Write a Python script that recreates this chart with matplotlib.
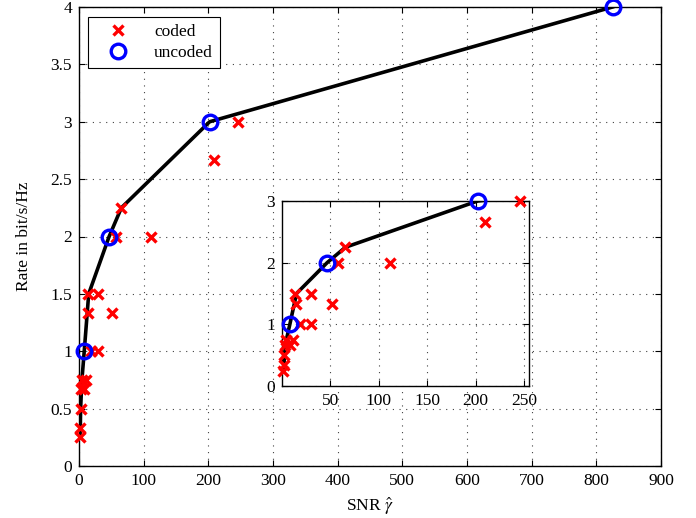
import matplotlib
matplotlib.use("Agg")
import matplotlib.pyplot as plt

plt.rcParams['font.family'] = ['Liberation Serif', 'DejaVu Serif']
plt.rcParams['mathtext.fontset'] = 'stix'

# Data
uncoded_snr = [8.1, 46.6, 202, 825]
uncoded_rate = [1, 2, 3, 4]

coded_snr = [1.5, 2.0, 2.5, 3.0, 8.0, 4.5, 11.0, 18.5, 29.5, 14.0, 51.5,
             13.5, 29.5, 57.5, 112, 65.5, 209.5, 245.5]
coded_rate = [0.25, 0.333, 0.5, 0.667, 0.667, 0.75, 0.75, 1, 1, 1.333, 1.333,
              1.5, 1.5, 2, 2, 2.25, 2.667, 3]

envelope_snr = [1.5, 2.0, 2.5, 4.5, 8.1, 15, 46.6, 65.5, 202, 825]
envelope_rate = [0.25, 0.333, 0.5, 0.75, 1, 1.5, 2, 2.25, 3, 4]

main_xticks = [0, 100, 200, 300, 400, 500, 600, 700, 800, 900]
main_yticks = [0, 0.5, 1, 1.5, 2, 2.5, 3, 3.5, 4]
inset_xticks = [50, 100, 150, 200, 250]
inset_yticks = [0, 1, 2, 3]

FS = 12.5

fig = plt.figure(figsize=(6.96, 5.18), dpi=100)
ax = fig.add_axes([79/696, 1-466/518, (661-79)/696, (466-7)/518])

def style(a, fs):
    a.tick_params(direction='in', length=4, width=0.8, labelsize=fs, top=True, right=True,
                  pad=5)
    a.grid(True, linestyle=(0, (1, 5)), color='black', linewidth=0.8, alpha=0.75)
    for s in a.spines.values():
        s.set_linewidth(1.0)

def draw(a):
    a.plot(envelope_snr, envelope_rate, color='black', linewidth=2.6, zorder=2)
    a.plot(coded_snr, coded_rate, linestyle='none', marker='x', color='red',
           markersize=7, markeredgewidth=2.4, label='coded', zorder=3, clip_on=False)
    a.plot(uncoded_snr, uncoded_rate, linestyle='none', marker='o', markerfacecolor='none',
           markeredgecolor='blue', markersize=10.5, markeredgewidth=2.4, label='uncoded',
           zorder=4, clip_on=False)

draw(ax)
ax.set_xlim(0, 900)
ax.set_ylim(0, 4)
ax.set_xticks(main_xticks)
ax.set_yticks(main_yticks)
ax.set_yticklabels(['0', '0.5', '1', '1.5', '2', '2.5', '3', '3.5', '4'])
style(ax, FS)
ax.set_xlabel(r'SNR $\hat{\gamma}$', fontsize=FS, labelpad=5)
ax.set_ylabel('Rate in bit/s/Hz', fontsize=FS, labelpad=13)
leg = ax.legend(loc='upper left', bbox_to_anchor=(9/582, 1-10/459), borderaxespad=0,
                fontsize=FS, fancybox=False, framealpha=1, edgecolor='black',
                handlelength=2.6, borderpad=0.4, labelspacing=0.3)
leg.get_frame().set_linewidth(0.8)

# Inset
ax2 = fig.add_axes([282/696, 1-386/518, (529-282)/696, (386-201)/518])
draw(ax2)
ax2.set_xlim(0, 255)
ax2.set_ylim(0, 3)
ax2.set_xticks(inset_xticks)
ax2.set_yticks(inset_yticks)
style(ax2, FS)

fig.savefig('out.png', dpi=100)
